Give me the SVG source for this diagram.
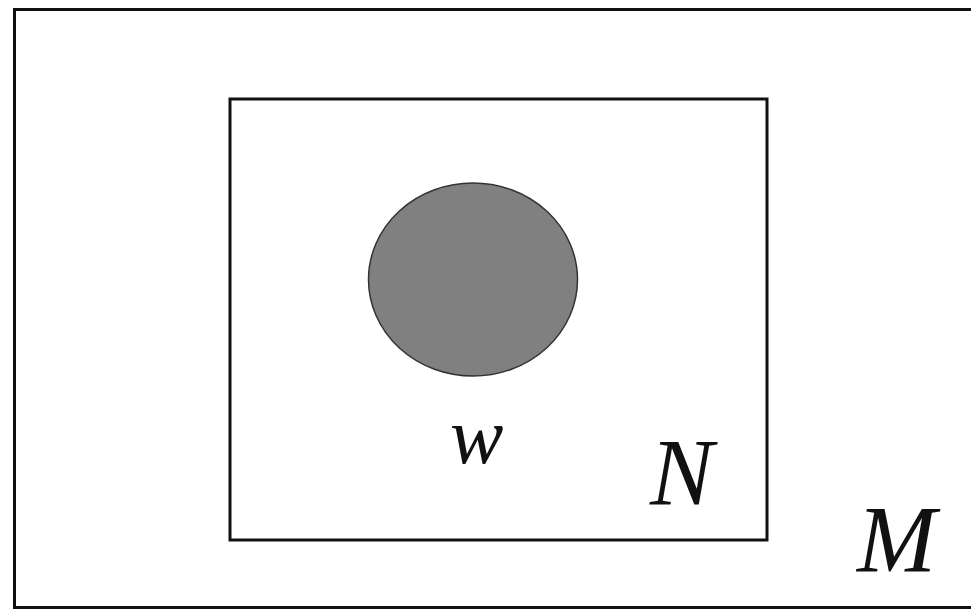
<svg xmlns="http://www.w3.org/2000/svg" width="971" height="609" viewBox="0 0 971 609">
<style>
.box{fill:none;stroke:#111;stroke-width:3}
.lbl{font-family:"Liberation Serif","Times New Roman",serif;font-style:italic;fill:#111}
</style>
<rect width="971" height="609" fill="#fff"/>
<g id="M">
<rect class="box" x="14.5" y="9.5" width="970" height="598"/>
<text class="lbl" x="857" y="572" font-size="95">M</text>
</g>
<g id="N">
<rect class="box" x="230" y="99" width="537" height="441"/>
<text class="lbl" x="650" y="505" font-size="95">N</text>
</g>
<g id="w">
<ellipse cx="473" cy="279.5" rx="104.5" ry="96.5" fill="#808080" stroke="#333" stroke-width="1.5"/>
<text class="lbl" x="450" y="463" font-size="80">w</text>
</g>
<g id="connectors"/>
</svg>
